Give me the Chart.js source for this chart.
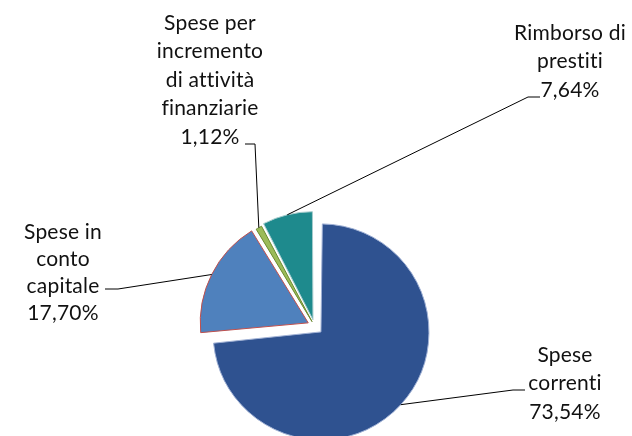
<!DOCTYPE html>
<html>
<head>
<meta charset="utf-8">
<script src="https://cdn.jsdelivr.net/npm/chart.js@4.4.1/dist/chart.umd.min.js"></script>
<style>
  html, body { margin: 0; padding: 0; background: #fff; }
  canvas { display: block; }
</style>
</head>
<body>
<canvas id="myChart" width="632" height="436"></canvas>
<script>
const categories = [
  ['Spese', 'correnti'],
  ['Spese in', 'conto', 'capitale'],
  ['Spese per', 'incremento', 'di attività', 'finanziarie'],
  ['Rimborso di', 'prestiti']
];
const shares = [73.54, 17.70, 1.12, 7.64];

const colors = ['#2F5290', '#4F81BD', '#9BBB59', '#1E8A8D'];
const borders = ['#9FB0D4', '#C0504D', '#6B8A2E', '#A5CBCC'];
const explode = [35, 28, 20, 26];

// label blocks: centre x, middle of first line, line step, leader elbow (label end first)
const labelPos = [
  {x: 565, y: 355, step: 28.5, elbow: [[525, 390], [513, 390]]},
  {x: 63, y: 232, step: 27, elbow: [[105, 289], [118, 289]]},
  {x: 210, y: 23, step: 28.5, elbow: [[245, 144], [255, 144]]},
  {x: 570, y: 33, step: 28.5, elbow: [[540, 97], [528, 97]]}
];

const pct = v => v.toFixed(2).replace('.', ',') + '%';

// chart.js grows big exploded slices; keep every slice at the same radius
const evenRadius = {
  id: 'evenRadius',
  beforeDatasetsDraw(chart) {
    const meta = chart.getDatasetMeta(0);
    const base = meta.controller.outerRadius;
    meta.data.forEach(arc => {
      const grow = (arc.options.offset / 4) * (1 - Math.sin(Math.min(Math.PI, arc.circumference)));
      arc.outerRadius = base - grow;
    });
  }
};

const sliceLabels = {
  id: 'sliceLabels',
  afterDraw(chart) {
    const ctx = chart.ctx;
    const meta = chart.getDatasetMeta(0);
    const base = meta.controller.outerRadius;
    ctx.save();
    meta.data.forEach((arc, i) => {
      const mid = (arc.startAngle + arc.endAngle) / 2;
      const r = base + arc.options.offset / 4;
      const ax = arc.x + Math.cos(mid) * r;
      const ay = arc.y + Math.sin(mid) * r;
      const p = labelPos[i];
      ctx.strokeStyle = '#000';
      ctx.lineWidth = 1;
      ctx.beginPath();
      ctx.moveTo(p.elbow[0][0], p.elbow[0][1]);
      ctx.lineTo(p.elbow[1][0], p.elbow[1][1]);
      ctx.lineTo(ax, ay);
      ctx.stroke();

      const lines = categories[i].concat([pct(shares[i])]);
      ctx.fillStyle = '#111';
      ctx.font = '21px Lato';
      ctx.letterSpacing = '0.2px'; // no tt/ti ligatures
      ctx.textAlign = 'center';
      ctx.textBaseline = 'middle';
      lines.forEach((t, k) => ctx.fillText(t, p.x, p.y + k * p.step));
    });
    ctx.restore();
  }
};

const data = {
  labels: categories,
  datasets: [{
    data: shares,
    backgroundColor: colors,
    borderColor: borders,
    borderWidth: 1,
    offset: explode,
    radius: 108
  }]
};

const config = {
  type: 'pie',
  data: data,
  options: {
    responsive: false,
    animation: false,
    events: [],
    layout: { padding: { top: 216, left: 0, right: 3, bottom: 0 } },
    plugins: {
      legend: { display: false },
      tooltip: { enabled: false }
    }
  },
  plugins: [evenRadius, sliceLabels]
};

var thisChart = new Chart(document.getElementById('myChart'), config);
</script>
</body>
</html>
